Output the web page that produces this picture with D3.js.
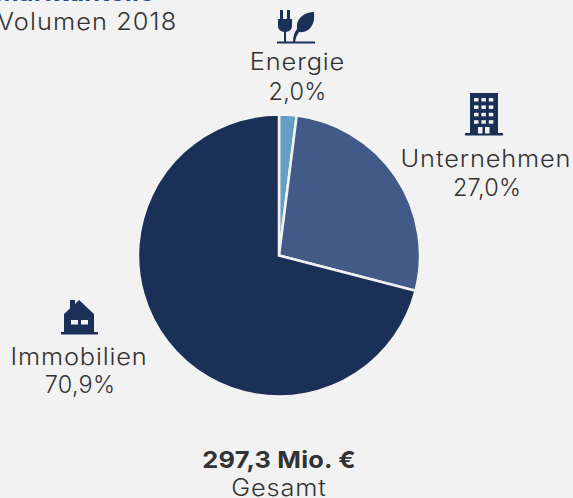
<!DOCTYPE html>
<html>
<head>
<meta charset="utf-8">
<script src="https://cdn.jsdelivr.net/npm/d3@7"></script>
<style>
html, body { margin: 0; padding: 0; background: #f2f2f2; overflow: hidden; }
text { font-family: "Inter", "Open Sans", sans-serif; font-weight: 300; fill: #333; font-size: 23.5px; letter-spacing: 0.8px; }
</style>
</head>
<body>
<div id="chart"></div>
<script>
// data
var categories = ['Energie', 'Unternehmen', 'Immobilien'];
var shares = [2.0, 27.0, 70.9];
var shareLabels = ['2,0%', '27,0%', '70,9%'];
var title = 'Marktanteile';
var subtitle = 'Volumen 2018';
var totalLabel = '297,3 Mio. €';
var totalCaption = 'Gesamt';

var width = 573, height = 498;
var navy = '#1b3057';
var colors = d3.scaleOrdinal().domain(categories).range(['#659fc4', '#425a88', navy]);

var svg = d3.select('#chart').append('svg')
    .attr('width', width)
    .attr('height', height)
    .style('display', 'block');

// pie
var pie = d3.pie().sort(null).value(d => d);
var arc = d3.arc().innerRadius(0).outerRadius(141);

svg.append('g')
    .attr('transform', 'translate(279,255.5)')
    .selectAll('path')
    .data(pie(shares))
    .enter()
    .append('path')
    .attr('d', arc)
    .attr('fill', (d, i) => colors(categories[i]))
    .attr('stroke', '#f2f2f2')
    .attr('stroke-width', 2.5);

// the original font is wider than anything installed, so stretch the text a bit
function addText(x, y, str, anchor, bold) {
    var t = svg.append('text')
        .attr('transform', `translate(${x},${y}) scale(1.08,1)`)
        .attr('text-anchor', anchor)
        .text(str);
    if (bold) t.style('font-weight', 700).style('letter-spacing', '0.2px');
    return t;
}

// digits are not as wide in the original, no stretch for these
function addShare(x, y, str) {
    svg.append('text')
        .attr('x', x)
        .attr('y', y)
        .attr('text-anchor', 'middle')
        .style('letter-spacing', '0.2px')
        .text(str);
}

// header, cut off at the top like the original
addText(-5, 1, title, 'start', true).style('fill', '#2b4a86');
addText(-3, 30, subtitle, 'start').style('letter-spacing', '1px');

// labels
addText(297.5, 70, categories[0], 'middle');
addShare(297.5, 100, shareLabels[0]);
addText(486, 167, categories[1], 'middle');
addShare(487, 196, shareLabels[1]);
addText(79, 365, categories[2], 'middle');
addShare(80, 393, shareLabels[2]);

addText(279, 468, totalLabel, 'middle', true);
addText(279, 496, totalCaption, 'middle');

// icons
var energy = svg.append('g').attr('fill', navy);
energy.append('rect').attr('x', 277).attr('y', 41.5).attr('width', 38).attr('height', 2);
energy.append('path').attr('d', 'M278 19h2v-9h3v9h4v-9h3v9h2v7q0 5-6 6v10h-2v-10q-6-1-6-6z');
energy.append('path').attr('d', 'M293 42q0-8 4-13q-1-8 5-13q5-4 12-4q1 10-3 15q-4 6-12 5q-3 4-4 10z');

var office = svg.append('g');
office.append('rect').attr('x', 470).attr('y', 93).attr('width', 28).attr('height', 41).attr('fill', navy);
office.append('rect').attr('x', 465).attr('y', 133).attr('width', 38).attr('height', 2.5).attr('fill', navy);
d3.range(4).forEach(r => d3.range(3).forEach(c => {
    office.append('rect').attr('x', 474 + c * 7.4).attr('y', 98 + r * 7.4)
        .attr('width', 4.5).attr('height', 3.5).attr('fill', '#f2f2f2');
}));
office.append('rect').attr('x', 478).attr('y', 127).attr('width', 4.5).attr('height', 6.5).attr('fill', '#f2f2f2');
office.append('rect').attr('x', 485).attr('y', 127).attr('width', 4.5).attr('height', 6.5).attr('fill', '#f2f2f2');

var house = svg.append('g');
house.append('path').attr('fill', navy).attr('d', 'M64 332V314L70 308.5V300H75V304L79 300L94 314V332z');
house.append('rect').attr('x', 61).attr('y', 332).attr('width', 37).attr('height', 2.5).attr('fill', navy);
house.append('rect').attr('x', 71).attr('y', 320).attr('width', 7).attr('height', 4.5).attr('fill', '#f2f2f2');
house.append('rect').attr('x', 81).attr('y', 320).attr('width', 7).attr('height', 4.5).attr('fill', '#f2f2f2');
</script>
</body>
</html>
